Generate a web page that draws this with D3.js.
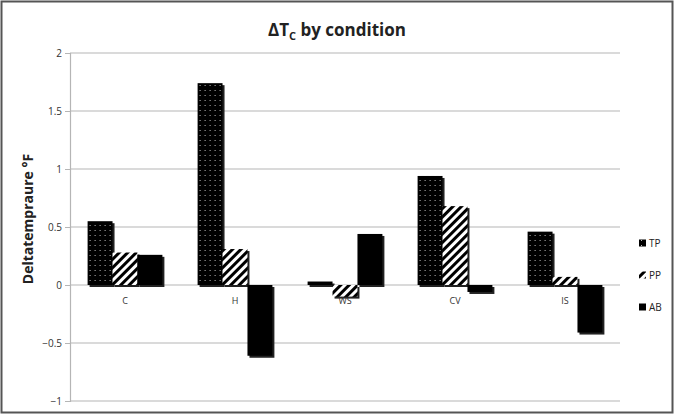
<!DOCTYPE html>
<html>
<head>
<meta charset="utf-8">
<script src="https://cdn.jsdelivr.net/npm/d3@7"></script>
<style>
  body { margin: 0; background: #fff; }
  text { font-family: "Open Sans", "DejaVu Sans", sans-serif; }
</style>
</head>
<body>
<svg id="chart" width="675" height="416"></svg>
<script>
var categories = ["C", "H", "WS", "CV", "IS"];
var seriesNames = ["TP", "PP", "AB"];
var tpValues = [0.55, 1.74, 0.03, 0.94, 0.46];
var ppValues = [0.28, 0.31, -0.10, 0.68, 0.07];
var abValues = [0.26, -0.61, 0.44, -0.06, -0.41];
var yTicks = [-1, -0.5, 0, 0.5, 1, 1.5, 2];

var svg = d3.select("#chart"),
  margin = {top: 53, right: 55, bottom: 15, left: 70},
  width = 620 - margin.left,
  height = 401 - margin.top;

var seriesValues = [tpValues, ppValues, abValues];
var data = categories.map(function(c, i) {
  return {cat: c, vals: seriesNames.map(function(s, j) { return {key: s, value: seriesValues[j][i]}; })};
});

// patterns
var defs = svg.append("defs");
var dots = defs.append("pattern")
  .attr("id", "dots").attr("patternUnits", "userSpaceOnUse")
  .attr("width", 5).attr("height", 5);
dots.append("rect").attr("width", 5).attr("height", 5).attr("fill", "#000");
dots.append("rect").attr("x", 2).attr("y", 2).attr("width", 1).attr("height", 1).attr("fill", "#bbb");

var stripes = defs.append("pattern")
  .attr("id", "stripes").attr("patternUnits", "userSpaceOnUse")
  .attr("width", 6).attr("height", 6)
  .attr("patternTransform", "rotate(45)");
stripes.append("rect").attr("width", 6).attr("height", 6).attr("fill", "#fff");
stripes.append("rect").attr("width", 3).attr("height", 6).attr("fill", "#000");

var fills = {TP: "url(#dots)", PP: "url(#stripes)", AB: "#000"};

// outer border
svg.append("rect")
  .attr("x", 1.5).attr("y", 1.5).attr("width", 671).attr("height", 411)
  .attr("fill", "none").attr("stroke", "#555").attr("stroke-width", 2);

var x0 = d3.scaleBand().domain(categories).range([0, width]).paddingInner(0.32).paddingOuter(0.16);
var x1 = d3.scaleBand().domain(seriesNames).range([0, x0.bandwidth()]);
var y = d3.scaleLinear().domain([-1, 2]).range([height, 0]);

var g = svg.append("g").attr("transform", "translate(" + margin.left + "," + margin.top + ")");

// gridlines
g.append("g").selectAll("line").data(yTicks).enter().append("line")
  .attr("x1", 0).attr("x2", width)
  .attr("y1", function(d) { return y(d); }).attr("y2", function(d) { return y(d); })
  .attr("stroke", "#b5b5b5").attr("stroke-width", 1.2);

// y axis
var yAxis = g.append("g").call(d3.axisLeft(y).tickValues(yTicks).tickSize(5).tickFormat(d3.format("")));
yAxis.select(".domain").attr("stroke", "#b5b5b5").attr("stroke-width", 1.2);
yAxis.selectAll(".tick line").attr("stroke", "#b5b5b5");
yAxis.selectAll(".tick text").attr("font-size", 10).attr("fill", "#333").attr("x", -8);

// bars
var groups = g.selectAll(".grp").data(data).enter().append("g")
  .attr("class", "grp")
  .attr("transform", function(d) { return "translate(" + x0(d.cat) + ",0)"; });

groups.selectAll(".shadow").data(function(d) { return d.vals; }).enter().append("rect")
  .attr("class", "shadow")
  .attr("x", function(d) { return x1(d.key) + 2; })
  .attr("y", function(d) { return Math.min(y(d.value), y(0)) + 2; })
  .attr("width", x1.bandwidth())
  .attr("height", function(d) { return Math.abs(y(d.value) - y(0)); })
  .attr("fill", "#222");

groups.selectAll(".bar").data(function(d) { return d.vals; }).enter().append("rect")
  .attr("class", "bar")
  .attr("x", function(d) { return x1(d.key); })
  .attr("y", function(d) { return Math.min(y(d.value), y(0)); })
  .attr("width", x1.bandwidth())
  .attr("height", function(d) { return Math.abs(y(d.value) - y(0)); })
  .attr("fill", function(d) { return fills[d.key]; });

// category labels
g.selectAll(".cat").data(categories).enter().append("text")
  .attr("x", function(d) { return x0(d) + x0.bandwidth() / 2; })
  .attr("y", y(0) + 19)
  .attr("text-anchor", "middle")
  .attr("font-size", 9)
  .attr("fill", "#333")
  .text(function(d) { return d; });

// title
var title = svg.append("text")
  .attr("x", 337).attr("y", 36)
  .attr("text-anchor", "middle")
  .attr("font-size", 17).attr("font-weight", "bold").attr("fill", "#222");
title.append("tspan").text("ΔT");
title.append("tspan").attr("font-size", 11).attr("dy", 4).text("C");
title.append("tspan").attr("dy", -4).text(" by condition");

// y axis label
svg.append("text")
  .attr("transform", "translate(33,219) rotate(-90)")
  .attr("text-anchor", "middle")
  .attr("font-size", 14).attr("font-weight", "bold").attr("fill", "#222")
  .text("Deltatempraure °F");

// legend
var legend = svg.append("g").selectAll("g").data(seriesNames).enter().append("g")
  .attr("transform", function(d, i) { return "translate(639," + (243 + i * 32) + ")"; });
legend.append("rect")
  .attr("x", 0).attr("y", -3.5).attr("width", 7).attr("height", 7)
  .attr("fill", function(d) { return fills[d]; });
legend.append("text")
  .attr("x", 10).attr("y", 4)
  .attr("font-size", 10).attr("fill", "#222")
  .text(function(d) { return d; });
</script>
</body>
</html>
